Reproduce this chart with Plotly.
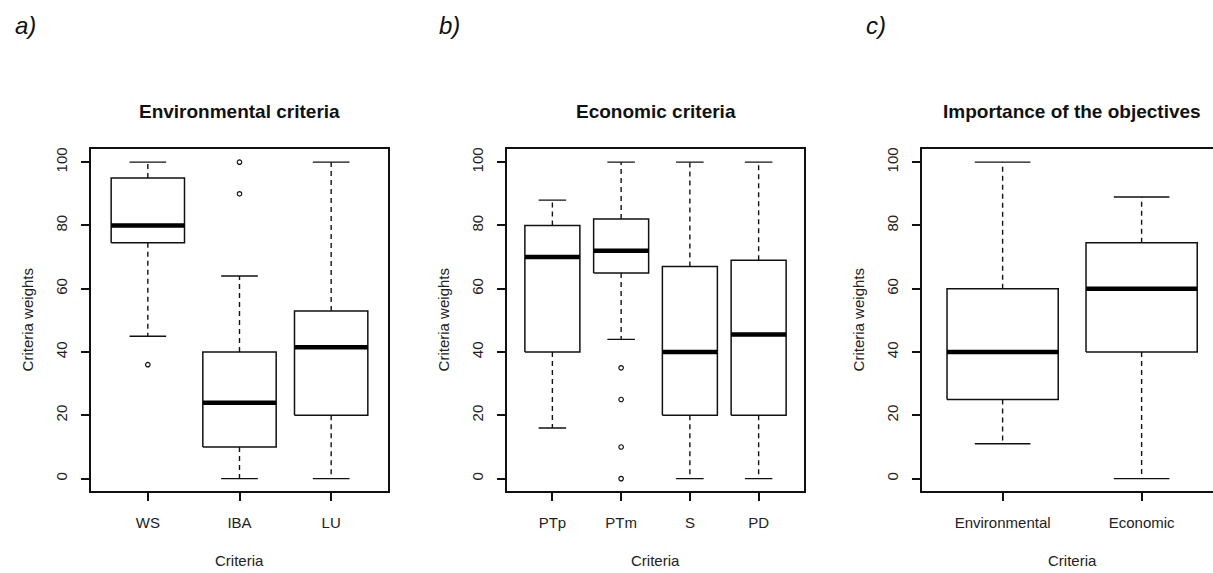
import plotly.graph_objects as go

# ---------------- data ----------------
env_cats = ["WS", "IBA", "LU"]
env_low = [45, 0, 0]
env_q1 = [74.5, 10, 20]
env_med = [80, 24, 41.5]
env_q3 = [95, 40, 53]
env_high = [100, 64, 100]
env_out = [[36], [90, 100], []]

eco_cats = ["PTp", "PTm", "S", "PD"]
eco_low = [16, 44, 0, 0]
eco_q1 = [40, 65, 20, 20]
eco_med = [70, 72, 40, 45.5]
eco_q3 = [80, 82, 67, 69]
eco_high = [88, 100, 100, 100]
eco_out = [[], [35, 25, 10, 0], [], []]

obj_cats = ["Environmental", "Economic"]
obj_low = [11, 0]
obj_q1 = [25, 40]
obj_med = [40, 60]
obj_q3 = [60, 74.5]
obj_high = [100, 89]
obj_out = [[], []]

y_ticks = [0, 20, 40, 60, 80, 100]
titles = ["Environmental criteria", "Economic criteria", "Importance of the objectives"]
panel_labels = ["a)", "b)", "c)"]

# ---------------- layout geometry ----------------
W, H = 1213, 573
px_dom = [(91, 388), (507, 804), (922, 1213)]
y_top, y_bot = 148, 491
x_ranges = [[0.38, 3.62], [0.34, 4.66], [0.42, 0.42 + 291 / 139]]
label_x = [25, 450, 876]
# plot-area centres (panel c's frame extends past the page edge, ~1222px)
centres = [(91 + 388) / 2, (507 + 804) / 2, (922 + 1222) / 2]

FONT = "Arial, Liberation Sans, sans-serif"
LINE = "#111111"
TXT = "#222222"

panels = [
    (env_cats, env_low, env_q1, env_med, env_q3, env_high, env_out),
    (eco_cats, eco_low, eco_q1, eco_med, eco_q3, eco_high, eco_out),
    (obj_cats, obj_low, obj_q1, obj_med, obj_q3, obj_high, obj_out),
]

fig = go.Figure()
HW = 0.4   # half box width (boxwex 0.8)
CW = 0.2   # half staple width

for p, (cats, low, q1, med, q3, high, out) in enumerate(panels):
    xa = "x" if p == 0 else f"x{p+1}"
    ya = "y" if p == 0 else f"y{p+1}"
    wx, wy, cx, cy, bx, by, mx, my, ox, oy = [], [], [], [], [], [], [], [], [], []
    for i in range(len(cats)):
        x = i + 1
        wx += [x, x, None, x, x, None]
        wy += [q3[i], high[i], None, q1[i], low[i], None]
        cx += [x - CW, x + CW, None, x - CW, x + CW, None]
        cy += [high[i], high[i], None, low[i], low[i], None]
        bx += [x - HW, x + HW, x + HW, x - HW, x - HW, None]
        by += [q1[i], q1[i], q3[i], q3[i], q1[i], None]
        mx += [x - HW, x + HW, None]
        my += [med[i], med[i], None]
        for o in out[i]:
            ox.append(x)
            oy.append(o)
    common = dict(xaxis=xa, yaxis=ya, showlegend=False, hoverinfo="skip")
    fig.add_trace(go.Scatter(x=wx, y=wy, mode="lines",
                             line=dict(color=LINE, width=1.4, dash="5px,4px"), **common))
    fig.add_trace(go.Scatter(x=cx, y=cy, mode="lines",
                             line=dict(color=LINE, width=1.4), **common))
    fig.add_trace(go.Scatter(x=bx, y=by, mode="lines",
                             line=dict(color=LINE, width=1.5), **common))
    fig.add_trace(go.Scatter(x=mx, y=my, mode="lines",
                             line=dict(color="#000000", width=4.5), **common))
    if ox:
        fig.add_trace(go.Scatter(x=ox, y=oy, mode="markers",
                                 marker=dict(symbol="circle-open", size=4.5,
                                             color=LINE, line=dict(width=1.2)),
                                 **common))

    d0, d1 = px_dom[p]
    xkey = "xaxis" if p == 0 else f"xaxis{p+1}"
    ykey = "yaxis" if p == 0 else f"yaxis{p+1}"
    fig.update_layout(**{
        xkey: dict(domain=[d0 / W, d1 / W], range=x_ranges[p], anchor=ya,
                   tickvals=list(range(1, len(cats) + 1)), ticktext=cats,
                   ticks="outside", ticklen=8, tickwidth=1.5, tickcolor=LINE,
                   showline=True, linecolor=LINE, linewidth=1.8, mirror=True,
                   showgrid=False, zeroline=False, ticklabelstandoff=9,
                   tickfont=dict(family=FONT, size=15, color=TXT), fixedrange=True),
        ykey: dict(domain=[1 - y_bot / H, 1 - y_top / H], range=[-4, 104], anchor=xa,
                   tickvals=y_ticks, ticks="outside", ticklen=8, tickwidth=1.5,
                   tickcolor=LINE, tickangle=-90,
                   showline=True, linecolor=LINE, linewidth=1.8,
                   mirror=(p < 2), showgrid=False, zeroline=False,
                   ticklabelstandoff=8,
                   tickfont=dict(family=FONT, size=15, color=TXT), fixedrange=True),
    })

annotations = []
for p in range(3):
    d0, d1 = px_dom[p]
    annotations.append(dict(text=f"<b>{titles[p]}</b>", xref="paper", yref="paper",
                            x=centres[p] / W, y=1 - 110 / H, showarrow=False,
                            font=dict(family=FONT, size=19, color="#111111"),
                            xanchor="center", yanchor="middle"))
    annotations.append(dict(text="Criteria", xref="paper", yref="paper",
                            x=centres[p] / W, y=1 - 560 / H, showarrow=False,
                            font=dict(family=FONT, size=15, color=TXT),
                            xanchor="center", yanchor="middle"))
    annotations.append(dict(text="Criteria weights", xref="paper", yref="paper",
                            x=(d0 - 64) / W, y=1 - (y_top + y_bot) / 2 / H,
                            textangle=-90, showarrow=False,
                            font=dict(family=FONT, size=15, color=TXT),
                            xanchor="center", yanchor="middle"))
    annotations.append(dict(text=f"<i>{panel_labels[p]}</i>", xref="paper", yref="paper",
                            x=label_x[p] / W, y=1 - 24 / H, showarrow=False,
                            font=dict(family=FONT, size=24, color="#111111"),
                            xanchor="center", yanchor="middle"))

fig.update_layout(width=W, height=H, margin=dict(l=0, r=0, t=0, b=0),
                  paper_bgcolor="white", plot_bgcolor="white",
                  annotations=annotations)

fig.write_html("out.html")
